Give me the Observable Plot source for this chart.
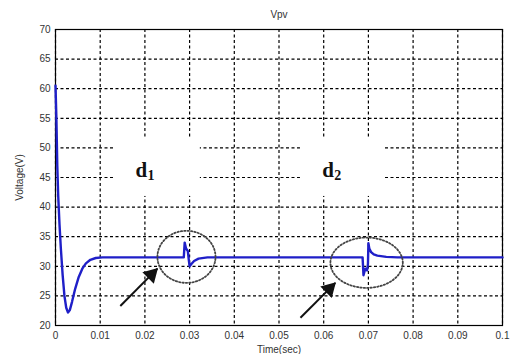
<!DOCTYPE html>
<html>
<head>
<meta charset="utf-8">
<script src="https://cdn.jsdelivr.net/npm/d3@7"></script>
<script src="https://cdn.jsdelivr.net/npm/@observablehq/plot@0.6"></script>
<style>
  html, body { margin: 0; padding: 0; background: #fff; }
</style>
</head>
<body>
<div id="chart"></div>
<script>
// ---- data ----
const time = [0, 0.0002, 0.0004, 0.0006, 0.0009, 0.0012, 0.0016, 0.002, 0.0024, 0.0028, 0.0032, 0.0037, 0.0044, 0.0052, 0.006, 0.0068, 0.0078, 0.009, 0.0105, 0.02, 0.0287,
  0.0289, 0.0292, 0.0296, 0.0298, 0.0300, 0.0304, 0.031, 0.032, 0.034, 0.05, 0.0687,
  0.0689, 0.0693, 0.0697, 0.0699, 0.0700, 0.0702, 0.0706, 0.0712, 0.072, 0.074, 0.0765, 0.1];
const voltage = [60.5, 55, 47, 42, 37, 33, 28.5, 25, 23, 22.2, 22.6, 24, 26.2, 28.2, 29.6, 30.5, 31.1, 31.4, 31.5, 31.5, 31.5,
  34, 33, 32.6, 31.2, 30, 30.4, 30.9, 31.3, 31.5, 31.5, 31.5,
  28.5, 29.6, 29.3, 30.4, 33.9, 33, 32.4, 32, 31.8, 31.6, 31.5, 31.5];

const xTicks = [0, 0.01, 0.02, 0.03, 0.04, 0.05, 0.06, 0.07, 0.08, 0.09, 0.1];
const xTickLabels = ["0", "0.01", "0.02", "0.03", "0.04", "0.05", "0.06", "0.07", "0.08", "0.09", "0.1"];
const yTicks = [20, 25, 30, 35, 40, 45, 50, 55, 60, 65, 70];

const titleText = "Vpv";
const xLabel = "Time(sec)";
const yLabel = "Voltage(V)";

// annotations (data coordinates)
const boxX1 = [0.013, 0.0548];
const boxX2 = [0.0324, 0.0738];
const boxY1 = [41.8, 41.8];
const boxY2 = [51.6, 51.6];
const noteX = [0.0179, 0.0597];
const noteY = [46.3, 46.3];
const noteMain = ["d", "d"];
const noteSub = ["1", "2"];
const arrowX1 = [0.0145, 0.0548];
const arrowY1 = [23.3, 21.3];
const arrowX2 = [0.0228, 0.0626];
const arrowY2 = [29.6, 27.2];
const ellCx = [0.0293, 0.0696];
const ellCy = [31.6, 30.6];
const ellRx = [0.0065, 0.0081];
const ellRy = [4.4, 4.25];

// ---- build tables ----
const series = time.map((t, i) => ({t, v: voltage[i]}));
const boxes = boxX1.map((x, i) => ({x1: x, x2: boxX2[i], y1: boxY1[i], y2: boxY2[i]}));
const notes = noteX.map((x, i) => ({x, y: noteY[i], main: noteMain[i], sub: noteSub[i]}));
const arrows = arrowX1.map((x, i) => ({x1: x, y1: arrowY1[i], x2: arrowX2[i], y2: arrowY2[i]}));
const ellPts = [];
ellCx.forEach((cx, k) => {
  for (let a = 0; a < 360; a += 4) {
    const r = a * Math.PI / 180;
    ellPts.push({k, x: cx + ellRx[k] * Math.cos(r), y: ellCy[k] + ellRy[k] * Math.sin(r)});
  }
});

const chart = Plot.plot({
  width: 511,
  height: 354,
  marginLeft: 55,
  marginRight: 9,
  marginTop: 29,
  marginBottom: 29,
  style: {fontFamily: "'Liberation Sans', Arial, sans-serif", fontSize: "10px", color: "#333", background: "#fff"},
  x: {domain: [0, 0.1]},
  y: {domain: [20, 70]},
  marks: [
    Plot.gridX(xTicks, {stroke: "#000", strokeOpacity: 1, strokeDasharray: "3,2.5", strokeWidth: 1.2}),
    Plot.gridY(yTicks, {stroke: "#000", strokeOpacity: 1, strokeDasharray: "3,2.5", strokeWidth: 1.2}),
    Plot.rect(boxes, {x1: "x1", x2: "x2", y1: "y1", y2: "y2", fill: "#fff"}),
    Plot.frame({stroke: "#000", strokeWidth: 1.2}),
    Plot.axisX(xTicks, {tickSize: 0, tickPadding: 6, tickFormat: (d, i) => xTickLabels[i], label: xLabel, labelAnchor: "center", labelArrow: "none", labelOffset: 27}),
    Plot.axisY(yTicks, {tickSize: 0, tickPadding: 5, label: yLabel, labelAnchor: "center", labelArrow: "none", labelOffset: 40}),
    Plot.line(series, {x: "t", y: "v", stroke: "#1f1fc8", strokeWidth: 2.4, curve: "linear"}),
    Plot.line(ellPts, {x: "x", y: "y", z: "k", curve: "linear-closed", stroke: "#444", strokeWidth: 1.8, strokeDasharray: "1.4,2"}),
    Plot.link(arrows, {x1: "x1", y1: "y1", x2: "x2", y2: "y2", stroke: "#111", strokeWidth: 2}),
    Plot.dot(arrows, {x: "x2", y: "y2", symbol: "triangle", r: 6, rotate: 45, fill: "#111", stroke: "none", dx: -6, dy: 6}),
    Plot.text(notes, {x: "x", y: "y", text: "main", textAnchor: "start", fontFamily: "'Liberation Serif', 'Times New Roman', serif", fontWeight: "bold", fontSize: 21, fill: "#111"}),
    Plot.text(notes, {x: "x", y: "y", text: "sub", textAnchor: "start", dx: 12, dy: 6, fontFamily: "'Liberation Serif', 'Times New Roman', serif", fontWeight: "bold", fontSize: 14, fill: "#111"}),
    Plot.text([titleText], {frameAnchor: "top", dy: -19, fontSize: 10, fill: "#333"})
  ]
});
document.getElementById("chart").appendChild(chart);
</script>
</body>
</html>
